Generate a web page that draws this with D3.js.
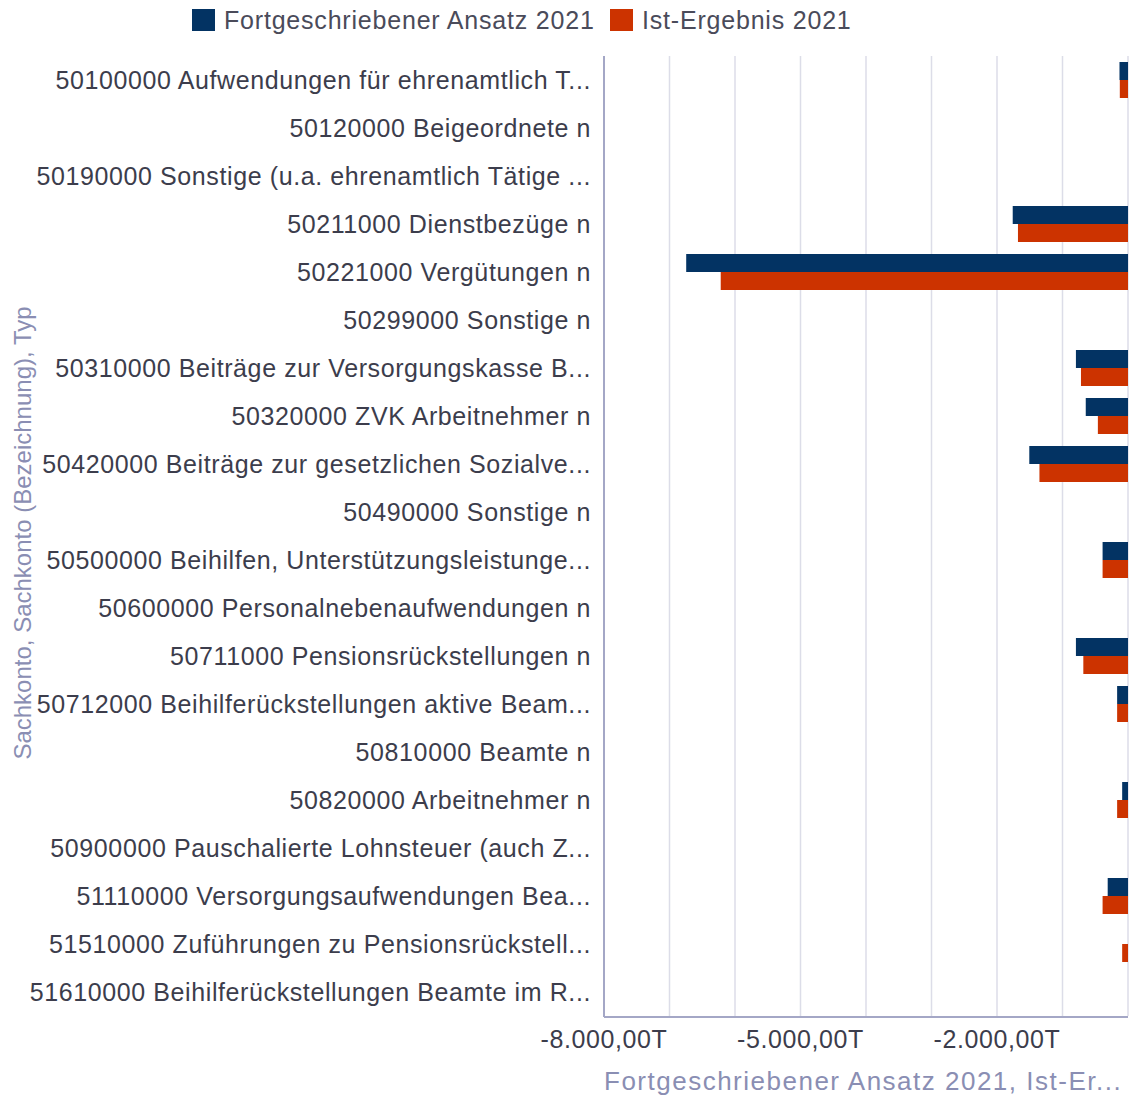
<!DOCTYPE html>
<html>
<head>
<meta charset="utf-8">
<script src="https://cdn.jsdelivr.net/npm/d3@7"></script>
<style>
  html, body { margin: 0; padding: 0; background: #fff; }
  svg { display: block; font-family: 'Liberation Sans', Arial, sans-serif; }
</style>
</head>
<body>
<script>
const categories = [
  '50100000 Aufwendungen für ehrenamtlich T...',
  '50120000 Beigeordnete n',
  '50190000 Sonstige (u.a. ehrenamtlich Tätige ...',
  '50211000 Dienstbezüge n',
  '50221000 Vergütungen n',
  '50299000 Sonstige n',
  '50310000 Beiträge zur Versorgungskasse B...',
  '50320000 ZVK Arbeitnehmer n',
  '50420000 Beiträge zur gesetzlichen Sozialve...',
  '50490000 Sonstige n',
  '50500000 Beihilfen, Unterstützungsleistunge...',
  '50600000 Personalnebenaufwendungen n',
  '50711000 Pensionsrückstellungen n',
  '50712000 Beihilferückstellungen aktive Beam...',
  '50810000 Beamte n',
  '50820000 Arbeitnehmer n',
  '50900000 Pauschalierte Lohnsteuer (auch Z...',
  '51110000 Versorgungsaufwendungen Bea...',
  '51510000 Zuführungen zu Pensionsrückstell...',
  '51610000 Beihilferückstellungen Beamte im R...'
];
const seriesNames = ['Fortgeschriebener Ansatz 2021', 'Ist-Ergebnis 2021'];
const seriesColors = ['#033363', '#cc3300'];
// values in thousands (T)
const ansatz = [-130, 0, 0, -1760, -6745, 0, -795, -645, -1507, 0, -388, 0, -795, -166, 0, -89, 0, -310, 0, 0];
const ist = [-125, 0, 0, -1680, -6218, 0, -718, -460, -1352, 0, -388, 0, -682, -166, 0, -166, 0, -388, -89, 0];
const tickValues = [-8000, -5000, -2000];
const xDomain = [-8000, 0];

const width = 1130, height = 1097;
const plotLeft = 604, plotRight = 1128, plotTop = 56, plotBottom = 1016;

const locale = d3.formatLocale({ decimal: ',', thousands: '.', grouping: [3], currency: ['', '€'], minus: '-' });
const fmt = locale.format(',.2f');

const svg = d3.select('body').append('svg').attr('width', width).attr('height', height);

const x = d3.scaleLinear().domain(xDomain).range([plotLeft, plotRight]);
const y = d3.scaleBand().domain(categories).range([plotTop, plotBottom]).padding(0);
const ySub = d3.scaleBand().domain(seriesNames).range([0, y.bandwidth()]).paddingInner(0).paddingOuter(1 / 3);

// grid
svg.append('g')
  .selectAll('line')
  .data(d3.range(-7000, 1, 1000))
  .join('line')
  .attr('x1', (d) => x(d)).attr('x2', (d) => x(d))
  .attr('y1', plotTop).attr('y2', plotBottom)
  .attr('stroke', '#dcdde8').attr('stroke-width', 1.5);

// bars
const rows = categories.map((c, i) => ({ cat: c, vals: [ansatz[i], ist[i]] }));
const rowG = svg.append('g').selectAll('g').data(rows).join('g')
  .attr('transform', (d) => 'translate(0,' + y(d.cat) + ')');
rowG.selectAll('rect')
  .data((d) => d.vals.map((v, j) => ({ v, s: seriesNames[j], c: seriesColors[j] })).filter((d) => d.v !== 0))
  .join('rect')
  .attr('x', (d) => x(d.v))
  .attr('width', (d) => x(0) - x(d.v))
  .attr('y', (d) => ySub(d.s))
  .attr('height', ySub.bandwidth())
  .attr('fill', (d) => d.c);

// axes lines
svg.append('line').attr('x1', plotLeft).attr('x2', plotLeft).attr('y1', plotTop).attr('y2', plotBottom + 1)
  .attr('stroke', '#a4a7c6').attr('stroke-width', 2);
svg.append('line').attr('x1', plotLeft).attr('x2', plotRight).attr('y1', plotBottom + 1).attr('y2', plotBottom + 1)
  .attr('stroke', '#a4a7c6').attr('stroke-width', 2);

// category labels
svg.append('g').selectAll('text').data(categories).join('text')
  .attr('x', 591)
  .attr('y', (d) => y(d) + y.bandwidth() / 2)
  .attr('dy', '0.36em')
  .attr('text-anchor', 'end')
  .attr('font-size', 25)
  .attr('letter-spacing', 0.6)
  .attr('fill', '#3c3d4c')
  .text((d) => d);

// x tick labels
svg.append('g').selectAll('text').data(tickValues).join('text')
  .attr('x', (d) => x(d))
  .attr('y', 1048)
  .attr('text-anchor', 'middle')
  .attr('font-size', 25)
  .attr('letter-spacing', 0.6)
  .attr('fill', '#3c3d4c')
  .text((d) => fmt(d) + 'T');

// axis titles
svg.append('text')
  .attr('x', plotLeft).attr('y', 1090)
  .attr('font-size', 26).attr('letter-spacing', 1.5)
  .attr('fill', '#8a8eb3')
  .text('Fortgeschriebener Ansatz 2021, Ist-Er...');
svg.append('text')
  .attr('transform', 'translate(31,533) rotate(-90)')
  .attr('text-anchor', 'middle')
  .attr('font-size', 24)
  .attr('fill', '#8a8eb3')
  .text('Sachkonto, Sachkonto (Bezeichnung), Typ');

// legend
const legendX = [192, 610];
const leg = svg.append('g').selectAll('g').data(seriesNames).join('g')
  .attr('transform', (d, i) => 'translate(' + legendX[i] + ',9)');
leg.append('rect').attr('width', 23).attr('height', 22).attr('fill', (d, i) => seriesColors[i]);
leg.append('text').attr('x', 32).attr('y', 20).attr('font-size', 25).attr('letter-spacing', 0.8)
  .attr('fill', '#4a4b5a').text((d) => d);
</script>
</body>
</html>
